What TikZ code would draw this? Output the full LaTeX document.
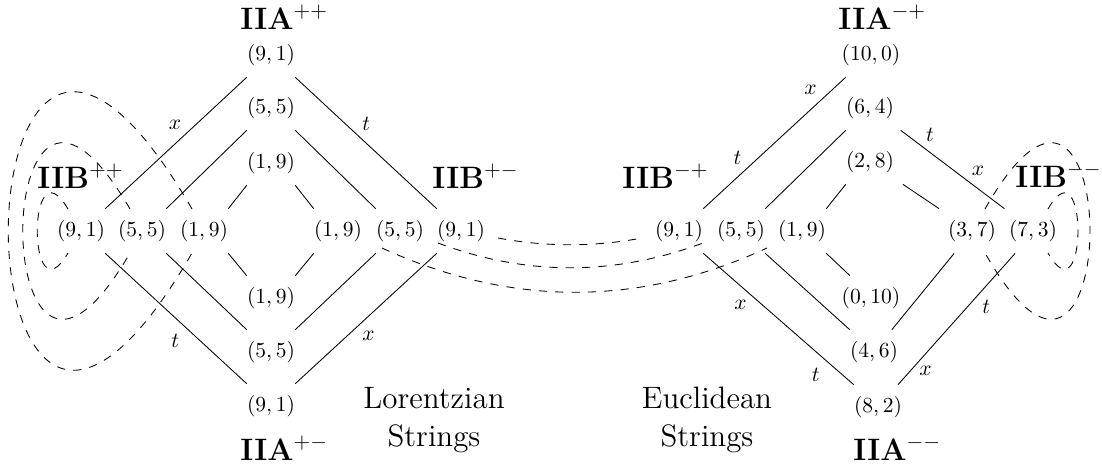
\documentclass[tikz,border=0pt]{standalone}
\begin{document}
\begin{tikzpicture}[x=0.465pt,y=-0.465pt,
  lab/.style={inner xsep=0pt, inner ysep=5.2pt},
  nm/.style={font=\Large\bfseries, inner sep=0pt, anchor=base west},
  el/.style={inner sep=2pt},
  dsh/.style={dash pattern=on 3.8pt off 3.8pt}]
\useasboundingbox (0,0) rectangle (1102,468);
% Lorentzian column
\node[lab] (t91) at (271,55) {$(9,1)$};
\node[lab] (t55) at (271,108) {$(5,5)$};
\node[lab] (t19) at (271,163) {$(1,9)$};
\node[lab] (b19) at (271,298) {$(1,9)$};
\node[lab] (b55) at (271,352) {$(5,5)$};
\node[lab] (b91) at (271,406) {$(9,1)$};
\node[lab] (l91) at (81,231) {$(9,1)$};
\node[lab] (l55) at (142,231) {$(5,5)$};
\node[lab] (l19) at (204,231) {$(1,9)$};
\node[lab] (r19) at (338,231) {$(1,9)$};
\node[lab] (r55) at (400,231) {$(5,5)$};
\node[lab] (r91) at (461,231) {$(9,1)$};
% Euclidean
\node[lab] (e100) at (871,55) {$(10,0)$};
\node[lab] (e64) at (870,108) {$(6,4)$};
\node[lab] (e28) at (870,162) {$(2,8)$};
\node[lab] (e010) at (871,298) {$(0,10)$};
\node[lab] (e46) at (874,352) {$(4,6)$};
\node[lab] (e82) at (878,407) {$(8,2)$};
\node[lab] (el91) at (679,231) {$(9,1)$};
\node[lab] (el55) at (741,231) {$(5,5)$};
\node[lab] (el19) at (802,231) {$(1,9)$};
\node[lab] (er37) at (972,231) {$(3,7)$};
\node[lab] (er73) at (1033,231) {$(7,3)$};
% titles
\node[nm] (iiapp) at (240,29) {IIA$^{++}$};
\node[nm] (iiapm) at (240,460) {IIA$^{+-}$};
\node[nm] (iiamp) at (838,29) {IIA$^{-+}$};
\node[nm] (iiamm) at (853,460) {IIA$^{--}$};
\node[nm] (iibpp) at (37,188) {IIB$^{++}$};
\node[nm] (iibpm) at (432,188) {IIB$^{+-}$};
\node[nm] (iibmp) at (622,188) {IIB$^{-+}$};
\node[nm] (iibmm) at (1015,187) {IIB$^{--}$};
\node[font=\Large, align=center] (lor) at (434,420) {Lorentzian\\Strings};
\node[font=\Large, align=center] (euc) at (707,420) {Euclidean\\Strings};
% Lorentzian lines
\draw (l91.north east) -- (t91.south west) node[el,pos=0.57,above left] {$x$};
\draw (l55.north east) -- (t55.south west);
\draw (l19.north east) -- (t19.south west);
\draw (t91.south east) -- (r91.north west) node[el,pos=0.44,above right] {$t$};
\draw (t55.south east) -- (r55.north west);
\draw (t19.south east) -- (r19.north west);
\draw (l91.south east) -- (b91.north west) node[el,pos=0.57,below left=1pt] {$t$};
\draw (l55.south east) -- (b55.north west);
\draw (l19.south east) -- (b19.north west);
\draw (r91.south west) -- (b91.north east) node[el,pos=0.56,below right] {$x$};
\draw (r55.south west) -- (b55.north east);
\draw (r19.south west) -- (b19.north east);
% Euclidean lines
\draw (el91.north east) -- ([xshift=2pt]e100.south west) node[el,pos=0.30,above left] {$t$} node[el,pos=0.83,above left] {$x$};
\draw (el55.north east) -- (e64.south west);
\draw (el19.north east) -- (e28.south west);
\draw ([xshift=3pt]e64.south east) -- ([xshift=-2pt]er73.north west) node[el,pos=0.2,above right] {$t$} node[el,pos=0.64,above right] {$x$};
\draw ([xshift=4pt]e28.south east) -- ([xshift=-4pt]er37.north west);
\draw (el91.south east) -- (e82.north west) node[el,pos=0.32,below left] {$x$} node[el,pos=0.82,below left=1pt] {$t$};
\draw (el55.south east) -- (e46.north west);
\draw (el19.south east) -- ([xshift=4pt]e010.north west);
\draw ([xshift=3pt]er73.south west) -- ([xshift=-2pt]e82.north east) node[el,pos=0.32,below right] {$t$} node[el,pos=0.84,below right=-1pt] {$x$};
\draw ([xshift=3pt]er37.south west) -- ([xshift=-3pt]e46.north east);
% dashed loops left
\draw[dsh] ([shift={(-13,-22)}]l91.center) .. controls (27,139) and (27,323) .. ([shift={(-13,22)}]l91.center);
\draw[dsh] ([shift={(-12,-22)}]l55.center) .. controls (-13,-37) and (-13,499) .. ([shift={(-12,22)}]l55.center);
\draw[dsh] ([shift={(-12,-22)}]l19.center) .. controls (-53,-214) and (-53,676) .. ([shift={(-12,22)}]l19.center);
% dashed loops right
\draw[dsh] ([shift={(13,-22)}]er37.center) .. controls (1125,-37) and (1125,499) .. ([shift={(13,22)}]er37.center);
\draw[dsh] ([shift={(15,-22)}]er73.center) .. controls (1088,139) and (1088,323) .. ([shift={(15,22)}]er73.center);
% dashed middle
\draw[dsh] ([shift={(37,7)}]r91.center) .. controls (546,247) and (594,247) .. ([shift={(-37,7)}]el91.center);
\draw[dsh] ([shift={(-23,12)}]r91.center) .. controls (526,276) and (614,276) .. ([shift={(24,12)}]el91.center);
\draw[dsh] ([shift={(-18,17)}]r55.center) .. controls (511,307) and (639,307) .. ([shift={(26,17)}]el55.center);
\end{tikzpicture}
\end{document}
